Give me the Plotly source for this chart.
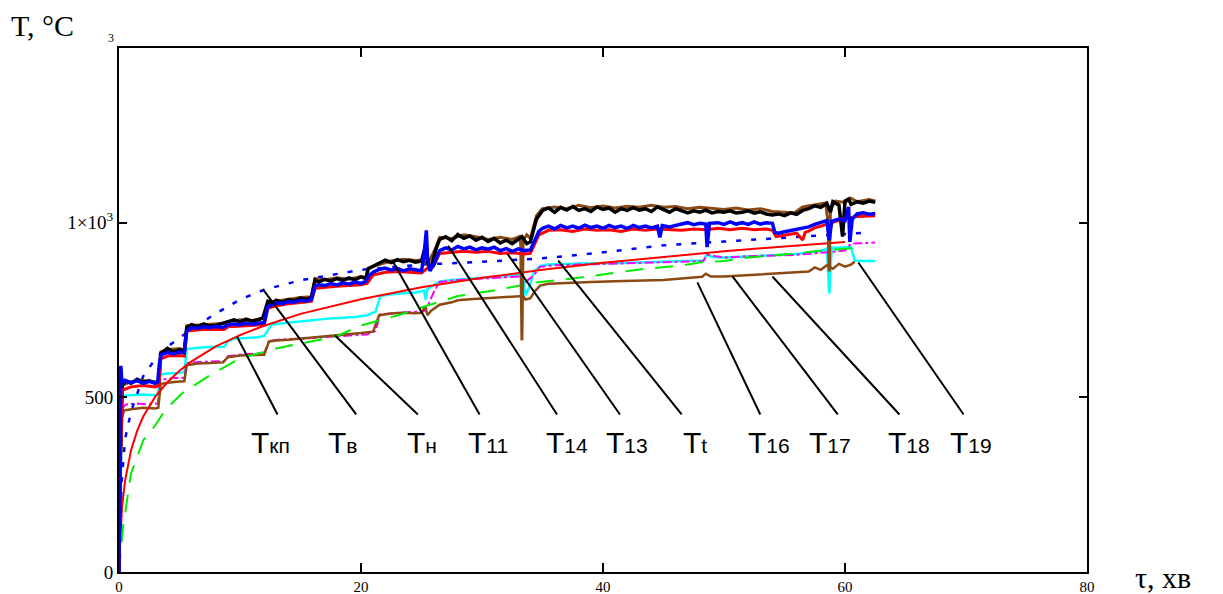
import plotly.graph_objects as go

# ---------------- data ----------------
# time in minutes, temperature in deg C
t_kp = [0, 0.25, 0.5, 1, 1.5, 2, 3, 4, 5, 6, 8, 10, 12, 15, 20, 25, 30, 35, 40, 45, 50, 55, 60]
T_kp = [20, 185, 261, 349, 404, 445, 502, 543, 576, 603, 646, 678, 705, 739, 781, 815, 842, 865, 885, 902, 918, 932, 945]

t_t = [0, 0.2, 0.5, 1, 2, 3, 4, 5, 6, 8, 10, 12, 15, 20, 25, 30, 35, 40, 45, 50, 55, 60, 61.5]
T_t = [0, 250, 380, 460, 560, 610, 645, 670, 695, 740, 780, 808, 835, 865, 880, 888, 898, 915, 935, 946, 957, 968, 971]

t_n = [0, 0.3, 0.75, 1, 2, 3, 3.8, 5.2, 7.5, 10, 13, 15, 18, 20, 23, 25.5, 28, 31, 34.5, 37.5, 40, 43, 46.4, 48, 50, 52, 55.7, 58, 60, 61]
T_n = [0, 120, 226, 283, 377, 420, 463, 511, 563, 611, 640, 654, 675, 706, 734, 763, 790, 806, 829, 840, 851, 866, 877, 886, 890, 900, 911, 920, 925, 929]

t_11 = [0, 0.1, 0.25, 0.5, 1, 1.5, 2, 2.5, 3, 3.3, 3.45, 4, 4.5, 5, 5.4, 5.6, 6, 6.5, 7, 7.5, 8, 8.5, 9, 9.5, 10,
        10.5, 11, 11.5, 11.9, 12.3, 12.7, 13, 13.5, 14, 14.5, 15, 15.5, 15.9, 16.2, 16.5, 17, 17.5, 18, 18.5, 19,
        19.5, 20, 20.4, 20.6, 21, 21.5, 22, 22.5, 23, 23.5, 24, 24.5, 25, 25.3, 25.5, 25.8, 26.2, 26.5, 27, 27.5,
        28, 28.5, 29, 29.5, 30, 30.5, 31, 31.5, 32, 32.5, 33, 33.3, 33.7, 34, 34.5, 35, 35.5, 36, 36.5, 37, 37.5,
        38, 38.5, 39, 39.5, 40, 40.5, 41, 41.5, 42, 42.5, 43, 43.5, 44, 44.5, 45, 45.5, 46, 46.5, 47, 47.5, 48,
        48.5, 49, 49.5, 50, 50.5, 51, 51.5, 52, 52.5, 53, 53.5, 54, 54.5, 55, 55.5, 56, 56.5, 57, 57.5, 58, 58.5,
        58.8, 59, 59.5, 59.8, 60, 60.3, 60.5, 61, 61.5, 62, 62.5]
T_11 = [0, 330, 530, 548, 540, 552, 543, 547, 541, 545, 625, 640, 630, 636, 632, 700, 708, 702, 710, 704, 706, 712, 718, 722, 716,
        724, 718, 722, 728, 775, 770, 778, 772, 780, 776, 784, 780, 786, 836, 830, 838, 833, 840, 835, 842,
        836, 845, 840, 868, 875, 884, 893, 886, 894, 888, 892, 887, 890, 930, 885, 870, 925, 952, 960, 948,
        966, 955, 962, 950, 958, 946, 955, 942, 950, 940, 952, 960, 940, 945, 1010, 1035, 1042, 1030, 1044, 1036, 1046,
        1035, 1040, 1032, 1045, 1038, 1042, 1030, 1040, 1035, 1043, 1036, 1040, 1032, 1045, 1038, 1030, 1040, 1035, 1028, 1034, 1030,
        1036, 1028, 1032, 1030, 1034, 1028, 1030, 1034, 1027, 1031, 1025, 1022, 1025, 1020, 1028, 1024, 1035, 1040, 1048, 1044, 1055,
        1030, 1060, 1050, 960, 1062, 1068, 1052, 1060, 1056, 1062, 1058]

t_18 = [0, 0.15, 0.3, 1, 2, 3, 3.3, 3.45, 4, 5, 5.4, 5.6, 7, 8.7, 9, 10, 11, 11.9, 12.3, 13, 14, 15, 15.9, 16.2, 17, 18, 19,
        20, 20.4, 20.6, 21.5, 22.5, 23.5, 24.5, 25, 25.5, 26.2, 26.5, 27.5, 28.5, 29.5, 30.5, 31.5, 32.5, 33.1, 33.2, 33.3,
        33.4, 33.7, 34, 34.5, 35, 36, 37, 38, 39, 40, 41, 42, 43, 44, 45, 46, 47, 48, 49, 50, 51, 52, 53, 54, 55, 55.8,
        56.5, 57.5, 58.4, 58.6, 58.7, 58.8, 59.2, 60, 60.5, 61, 62, 62.5]
T_18 = [0, 400, 535, 545, 548, 544, 548, 630, 636, 640, 636, 705, 708, 712, 716, 722, 720, 726, 772, 776, 782, 786, 788, 840, 836, 842, 838,
        846, 843, 870, 880, 890, 895, 892, 893, 880, 930, 958, 955, 965, 960, 952, 958, 952, 960, 940, 663,
        950, 965, 955, 1020, 1040, 1045, 1040, 1050, 1043, 1048, 1042, 1047, 1044, 1050, 1044, 1046, 1040, 1044, 1040, 1038, 1042, 1036, 1040, 1032, 1030, 1028,
        1045, 1050, 1056, 1000, 860, 1040, 1062, 1058, 1070, 1060, 1066, 1062]

t_14 = [0, 0.08, 0.15, 0.25, 0.5, 1, 1.5, 2, 2.5, 3, 3.2, 3.35, 3.5, 4, 4.5, 5, 5.4, 5.6, 6, 6.5, 7, 7.5, 8, 8.6, 8.9, 9.5,
        10, 10.5, 11, 11.5, 12, 12.3, 12.7, 13, 13.5, 14, 14.5, 15, 15.5, 15.9, 16.2, 16.5, 17, 17.5, 18, 18.5, 19, 19.5,
        20, 20.4, 20.7, 21, 21.5, 22, 22.5, 23, 23.5, 24, 24.5, 25, 25.2, 25.4, 25.5, 25.7, 26, 26.5, 27, 27.5, 28, 28.5,
        29, 29.5, 30, 30.5, 31, 31.5, 32, 32.5, 33, 33.5, 34, 34.3, 34.7, 35, 35.5, 36, 36.5, 37, 37.5, 38, 38.5, 39,
        39.5, 40, 40.5, 41, 41.5, 42, 42.5, 43, 43.5, 44, 44.5, 44.7, 44.9, 45.5, 46, 46.5, 47, 47.5, 48, 48.5, 48.6,
        48.8, 49.5, 50, 50.5, 51, 51.5, 52, 52.5, 53, 53.5, 54, 54.2, 54.5, 55, 55.5, 56, 56.5, 57, 57.5, 58, 58.5,
        58.7, 58.9, 59.5, 60, 60.3, 60.4, 60.6, 61, 61.5, 62, 62.5]
T_14 = [0, 350, 590, 540, 548, 542, 548, 540, 546, 540, 544, 600, 622, 628, 624, 630, 628, 690, 700, 698, 702, 699, 703, 700, 706, 710,
        708, 712, 709, 712, 714, 760, 766, 770, 768, 774, 772, 778, 776, 780, 818, 822, 820, 826, 822, 828, 824, 830,
        826, 832, 850, 858, 866, 870, 864, 869, 862, 868, 865, 862, 905, 978, 900, 862, 880, 920, 928, 922, 932, 925,
        930, 922, 928, 924, 930, 920, 926, 918, 925, 920, 922, 945, 975, 984, 990, 982, 992, 985, 990, 984, 993, 986,
        990, 984, 992, 986, 990, 983, 992, 986, 990, 985, 990, 958, 992, 988, 993, 996, 1000, 994, 998, 996, 930,
        998, 1000, 995, 1002, 996, 1000, 995, 1002, 996, 1000, 998, 972, 970, 974, 978, 980, 984, 988, 995, 1000, 1006,
        950, 1004, 1010, 1005, 1045, 945, 1010, 1025, 1028, 1024, 1026]

t_13 = [0, 0.1, 0.25, 1, 2, 3, 3.3, 3.45, 4, 5, 5.4, 5.6, 7, 8.7, 9, 10, 11, 12, 12.3, 13, 14, 15, 15.9, 16.2, 17, 18, 19, 20,
        20.5, 21, 22, 23, 24, 25, 25.5, 26, 26.5, 27.5, 28.5, 29.5, 30.5, 31.5, 32.5, 33.5, 34, 34.7, 35.5, 36.5, 37.5,
        38.5, 39.5, 40.5, 41.5, 42.5, 43.5, 44.5, 45.5, 46.5, 47.5, 48.5, 49.5, 50.5, 51.5, 52.5, 53.5, 54, 54.3, 55, 56,
        56.5, 56.7, 57, 57.5, 58, 58.5, 59, 59.5, 60, 61, 62, 62.5]
T_13 = [0, 300, 520, 530, 534, 530, 534, 610, 618, 620, 618, 690, 695, 694, 702, 704, 706, 708, 755, 762, 768, 772, 775, 812, 815, 818, 820, 822,
        826, 850, 858, 860, 858, 856, 870, 875, 912, 916, 918, 915, 918, 912, 914, 910, 912, 965, 978, 980, 975,
        982, 978, 980, 975, 982, 978, 982, 980, 978, 982, 980, 984, 980, 984, 980, 982, 978, 960, 965, 970,
        950, 972, 976, 985, 990, 995, 1000, 1005, 1012, 1018, 1020, 1020]

t_19 = [0, 0.1, 0.25, 0.4, 1, 2, 3, 3.2, 3.4, 4, 5, 5.4, 5.6, 6.5, 7.5, 8.7, 9, 9.5, 10.5, 11.5, 12, 12.6, 13.5, 14.5, 15.5,
        16.5, 17.5, 18.5, 19.5, 20.5, 21.2, 21.6, 22.5, 23.5, 24.5, 25.2, 25.35, 25.5, 26, 26.5, 27.5, 28.5, 29.5, 30.5,
        31.5, 32.5, 33, 33.4, 33.6, 33.9, 34.3, 34.8, 35.5, 37, 39, 41, 43, 45, 47, 48.3, 48.6, 49, 50, 52, 54, 56, 58,
        58.5, 58.7, 58.9, 59.5, 60.5, 60.8, 61.5, 62.5]
T_19 = [0, 200, 480, 505, 506, 508, 506, 508, 565, 568, 570, 572, 638, 642, 644, 645, 660, 668, 670, 672, 676, 708, 712, 716, 720,
        724, 726, 728, 730, 735, 745, 790, 795, 798, 800, 805, 780, 810, 820, 832, 836, 838, 842, 844,
        846, 848, 850, 840, 792, 815, 860, 876, 880, 882, 884, 884, 886, 888, 890, 892, 910, 902, 900, 904, 906, 910, 918,
        926, 797, 928, 928, 930, 892, 890, 890]

t_17 = [0, 0.15, 0.3, 0.6, 1.5, 2.5, 3.2, 3.4, 4.5, 5.4, 5.6, 7, 8.7, 9, 10.5, 12, 12.4, 13.5, 15, 17, 19, 20.5, 21.2, 21.6,
        23, 24.5, 25.2, 25.5, 26, 26.5, 28, 30, 32, 33.2, 33.6, 34.3, 34.8, 36, 38, 40, 42, 44, 46, 48.3, 48.6, 50, 52,
        54, 56, 58, 59, 60, 60.5, 62.5]
T_17 = [0, 300, 470, 480, 482, 480, 482, 550, 555, 556, 598, 602, 604, 618, 624, 626, 662, 666, 668, 672, 676, 680, 690, 738,
        742, 745, 746, 760, 800, 830, 836, 840, 844, 846, 830, 850, 874, 878, 880, 882, 884, 886, 888, 890, 908, 900, 904,
        906, 908, 914, 918, 920, 940, 943]

t_16 = [0, 0.1, 0.25, 0.4, 1, 2, 3, 3.25, 3.45, 4, 5, 5.4, 5.6, 6.5, 7.5, 8.6, 9, 10, 11, 12, 12.4, 13, 14, 15, 16, 17, 18,
        19, 20, 21, 21.5, 22.5, 23.5, 24.5, 25, 25.3, 25.5, 25.8, 26.5, 27.5, 28, 29, 30, 31, 32, 33, 33.4, 33.6, 34,
        34.4, 34.8, 35.5, 37, 39, 41, 43, 45, 46.5, 47.5, 48.2, 48.5, 48.9, 50, 52, 54, 56, 57, 57.5, 58, 58.5, 59, 59.5,
        60, 60.5, 60.8]
T_16 = [0, 250, 440, 462, 466, 470, 468, 470, 538, 542, 545, 546, 592, 597, 598, 600, 615, 620, 621, 622, 660, 663, 665, 668, 670, 673, 676,
        680, 684, 688, 735, 740, 742, 741, 742, 760, 735, 748, 765, 772, 778, 781, 783, 785, 786, 788, 790, 780, 784,
        805, 820, 825, 828, 830, 832, 834, 836, 840, 842, 845, 854, 846, 846, 850, 852, 856, 860, 872, 865, 878, 868, 882,
        874, 880, 888]

# label texts and leader lines (label foot -> point on a curve)
sub = "<span style='font-size:21px'>{}</span>"
label_text = ["T" + sub.format(s) for s in ["кп", "в", "н", "11", "14", "13", "t", "16", "17", "18", "19"]]
label_x = [12.5, 18.5, 25.0, 30.5, 37.0, 42.0, 47.6, 53.7, 58.8, 65.3, 70.4]
label_y = [372] * 11
lead_x0 = [13.1, 19.6, 24.7, 29.8, 36.2, 41.4, 46.5, 53.0, 59.4, 64.5, 69.8]
lead_y0 = [451] * 11
lead_x1 = [9.75, 11.9, 17.85, 22.6, 27.2, 32.1, 36.3, 47.8, 50.7, 54.0, 61.1]
lead_y1 = [674, 809, 677, 891, 934, 911, 891, 829, 846, 846, 886]

x_ticks = [0, 20, 40, 60, 80]
y_ticks = [0, 500, 1000]
y_ticktext = ["0", "500", "1×10<sup>3</sup>"]

# ---------------- figure ----------------
fig = go.Figure()

def add(x, y, color, width, dash="solid"):
    fig.add_trace(go.Scatter(x=x, y=y, mode="lines", line=dict(color=color, width=width, dash=dash),
                             hoverinfo="skip", showlegend=False))

add(t_19, T_19, "#00ffff", 2.5)
add(t_17, T_17, "#ff00ff", 2, "dashdot")
add(t_16, T_16, "#8b4a12", 2.5)
add(t_kp, T_kp, "#ff0000", 2)
add(t_n, T_n, "#00ee00", 2, "18px,12px")
add(t_t, T_t, "#0000ff", 2.5, "5px,10px")
add(t_18, T_18, "#8b4a12", 3)
add(t_11, T_11, "#000000", 3.5)
add(t_13, T_13, "#ff0000", 3)
add(t_14, T_14, "#0000ff", 3.5)

shapes = []
for a, b, c, d in zip(lead_x0, lead_y0, lead_x1, lead_y1):
    shapes.append(dict(type="line", xref="x", yref="y", x0=a, y0=b, x1=c, y1=d,
                       line=dict(color="black", width=2)))

annotations = []
for txt, x, y in zip(label_text, label_x, label_y):
    annotations.append(dict(x=x, y=y, xref="x", yref="y", text=txt, showarrow=False,
                            font=dict(family="Liberation Sans, Arial", size=30, color="black"),
                            xanchor="center", yanchor="middle"))
annotations += [
    dict(xref="paper", yref="paper", x=-0.1135, y=1.042, text="T, °C", showarrow=False,
         xanchor="left", yanchor="middle", font=dict(family="Liberation Serif", size=30, color="black")),
    dict(xref="paper", yref="paper", x=-0.0085, y=1.02, text="3", showarrow=False,
         xanchor="center", yanchor="middle", font=dict(family="Liberation Serif", size=12, color="black")),
    dict(xref="paper", yref="paper", x=1.048, y=-0.01, text="τ, хв", showarrow=False,
         xanchor="left", yanchor="middle", font=dict(family="Liberation Serif", size=30, color="black")),
]

# the page body adds an 8 px offset, so the figure is 8 px smaller and shifted margins
fig.update_layout(
    width=1215, height=586,
    margin=dict(l=111, r=136, t=40, b=22, autoexpand=False),
    paper_bgcolor="white", plot_bgcolor="white",
    shapes=shapes, annotations=annotations,
    xaxis=dict(range=[0, 80], tickvals=x_ticks, ticks="inside", ticklen=9, tickwidth=1.5, tickcolor="black",
               showline=True, linecolor="black", linewidth=2, mirror="ticks", showgrid=False, zeroline=False,
               automargin=False, tickfont=dict(family="Liberation Serif", size=15, color="black")),
    yaxis=dict(range=[0, 1500], tickvals=y_ticks, ticktext=y_ticktext, ticks="inside", ticklen=8, tickwidth=1.5,
               tickcolor="black", showline=True, linecolor="black", linewidth=2, mirror="ticks", showgrid=False,
               zeroline=False, automargin=False, tickfont=dict(family="Liberation Serif", size=19, color="black")),
)

fig.write_html("out.html")
